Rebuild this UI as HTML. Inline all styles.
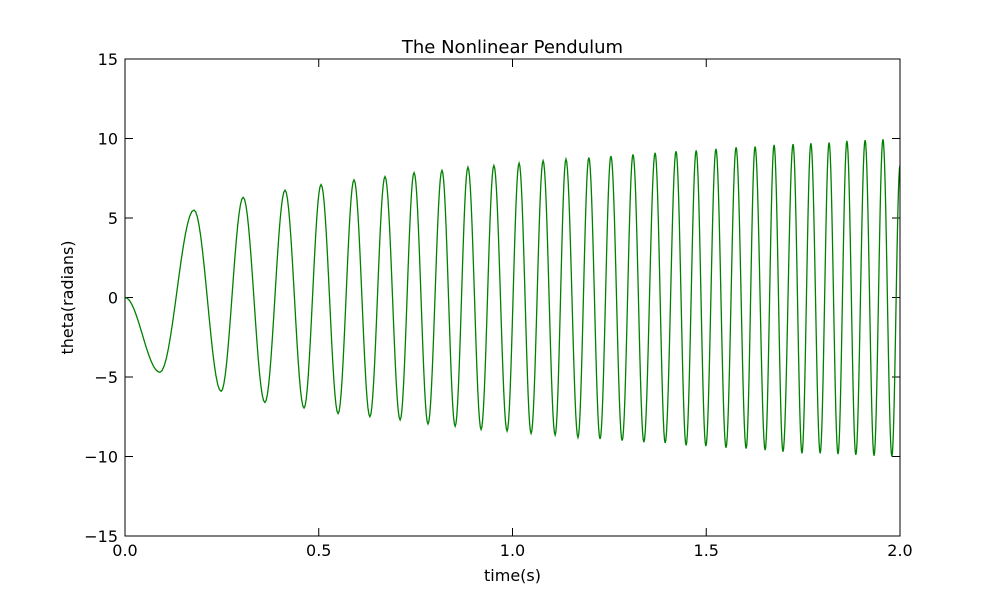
<!DOCTYPE html>
<html><head><meta charset="utf-8">
<style>
body{margin:0;background:#fff;}
svg text{font-family:"DejaVu Sans","Liberation Sans",sans-serif;fill:#000;}
</style></head>
<body>
<svg id="chart" width="1000" height="596" viewBox="0 0 1000 596" xmlns="http://www.w3.org/2000/svg">
<rect width="1000" height="596" fill="#fff"/>
<g id="ticks"></g>
<path id="series" fill="none" stroke="#008000" stroke-width="1.3"/>
<rect x="125" y="59" width="775" height="477" fill="none" stroke="#000" stroke-width="1"/>
<text x="512.5" y="53" font-size="18" text-anchor="middle">The Nonlinear Pendulum</text>
<text x="512.5" y="581" font-size="16" text-anchor="middle">time(s)</text>
<text x="73" y="297.5" font-size="16" text-anchor="middle" transform="rotate(-90 73 297.5)">theta(radians)</text>
</svg>
<script>
const extremaTimes=[0,0.090,0.178,0.248,0.305,0.361,0.413,0.462,0.506,0.550,0.591,0.632,0.671,0.710,0.746,0.782,0.818,0.852,0.885,0.919,0.952,0.986,1.017,1.048,1.079,1.110,1.138,1.169,1.197,1.226,1.254,1.283,1.311,1.339,1.368,1.394,1.422,1.448,1.474,1.499,1.525,1.551,1.577,1.603,1.626,1.652,1.675,1.698,1.724,1.747,1.770,1.794,1.817,1.840,1.863,1.886,1.910,1.933,1.956,1.979,2.0];
const extremaValues=[0,-4.7,5.5,-5.9,6.3,-6.6,6.75,-6.95,7.1,-7.3,7.4,-7.5,7.6,-7.7,7.85,-7.95,8.0,-8.1,8.2,-8.3,8.3,-8.4,8.45,-8.55,8.6,-8.65,8.7,-8.8,8.8,-8.9,8.9,-9.0,9.0,-9.1,9.1,-9.15,9.2,-9.3,9.25,-9.35,9.35,-9.45,9.45,-9.5,9.5,-9.6,9.6,-9.7,9.65,-9.8,9.7,-9.8,9.75,-9.85,9.85,-9.9,9.9,-9.95,9.95,-10.0,8.3];
const xTicks=[0,0.5,1.0,1.5,2.0];
const xTickLabels=["0.0","0.5","1.0","1.5","2.0"];
const yTicks=[-15,-10,-5,0,5,10,15];
const yTickLabels=["\u221215","\u221210","\u22125","0","5","10","15"];
const X0=125,X1=900,Y0=536,Y1=59;
const xs=t=>X0+(t-0)/(2-0)*(X1-X0);
const ys=v=>Y0-(v+15)/30*(Y0-Y1);
const NS="http://www.w3.org/2000/svg";
const g=document.getElementById('ticks');
function add(tag,attrs,txt){const e=document.createElementNS(NS,tag);for(const k in attrs)e.setAttribute(k,attrs[k]);if(txt!==undefined)e.textContent=txt;g.appendChild(e);return e;}
xTicks.forEach((t,i)=>{const x=xs(t);
 let l=add('line',{x1:x,x2:x,y1:Y0,y2:Y0-8,stroke:'#000'});
 
 
 l=add('line',{x1:x,x2:x,y1:Y1,y2:Y1+8,stroke:'#000'});
 
 
 const tx=add('text',{x:x,y:556,'font-size':16,'text-anchor':'middle'},xTickLabels[i]);
 
 
});
yTicks.forEach((v,i)=>{const y=ys(v);
 let l=add('line',{x1:X0,x2:X0+8,y1:y,y2:y,stroke:'#000'});
 
 
 l=add('line',{x1:X1,x2:X1-8,y1:y,y2:y,stroke:'#000'});
 
 
 const tx=add('text',{x:118,y:y+6,'font-size':16,'text-anchor':'end'},yTickLabels[i]);
 
 
});
let d='';
for(let i=0;i<extremaTimes.length-1;i++){
 const t0=extremaTimes[i],t1=extremaTimes[i+1],v0=extremaValues[i],v1=extremaValues[i+1];
 const N=16;
 for(let k=(i===0?0:1);k<=N;k++){const f=k/N;const t=t0+(t1-t0)*f;const v=v0+(v1-v0)*(1-Math.cos(Math.PI*f))/2;
  d+=(d?'L':'M')+xs(t).toFixed(2)+','+ys(v).toFixed(2);}
}
document.getElementById('series').setAttribute('d',d);
</script>
</body></html>
